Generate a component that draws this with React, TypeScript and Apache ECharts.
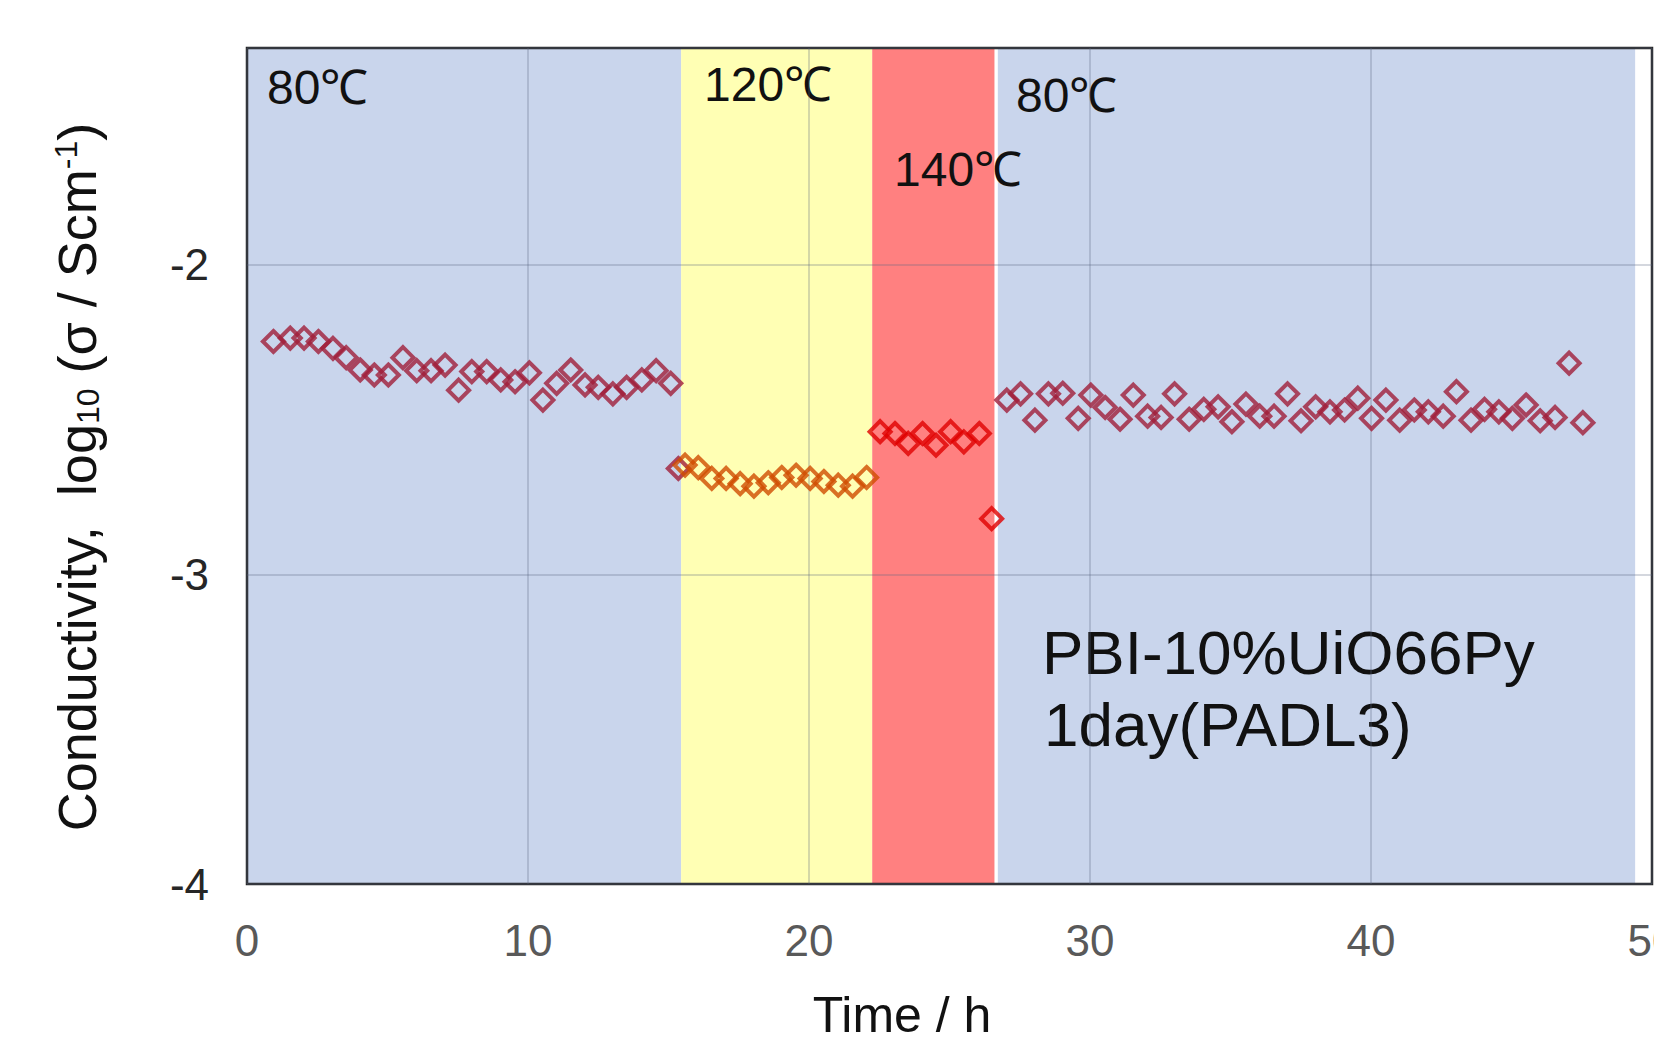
import React, { useEffect, useRef } from "react";
import * as echarts from "echarts";

// ---- data ----
const time80a = [0.94, 1.54, 2.03, 2.54, 3.06, 3.53, 4.03, 4.53, 5.03, 5.55, 6.04, 6.55, 7.05, 7.53, 8.0, 8.53, 9.03, 9.54, 10.05, 10.53, 11.02, 11.52, 12.03, 12.5, 13.02, 13.51, 14.05, 14.56, 15.08, 15.35];
const cond80a = [-2.248, -2.237, -2.237, -2.248, -2.27, -2.3, -2.34, -2.356, -2.356, -2.3, -2.342, -2.342, -2.324, -2.405, -2.345, -2.345, -2.372, -2.378, -2.349, -2.437, -2.383, -2.34, -2.388, -2.396, -2.417, -2.396, -2.372, -2.342, -2.383, -2.658];

const time120 = [15.59, 16.06, 16.54, 17.05, 17.55, 18.04, 18.55, 19.03, 19.54, 20.04, 20.53, 21.04, 21.55, 22.05];
const cond120 = [-2.647, -2.655, -2.69, -2.69, -2.707, -2.715, -2.704, -2.687, -2.68, -2.69, -2.7, -2.712, -2.715, -2.687];

const time140 = [22.53, 23.06, 23.53, 24.04, 24.52, 25.04, 25.51, 26.06, 26.5];
const cond140 = [-2.539, -2.545, -2.577, -2.545, -2.583, -2.539, -2.572, -2.545, -2.82];

const time80b = [27.04, 27.53, 28.04, 28.52, 29.03, 29.58, 30.03, 30.54, 31.07, 31.54, 32.05, 32.53, 33.01, 33.53, 34.05, 34.56, 35.05, 35.55, 36.04, 36.55, 37.03, 37.51, 38.03, 38.54, 39.06, 39.53, 40.02, 40.53, 41.02, 41.54, 42.04, 42.57, 43.04, 43.56, 44.04, 44.55, 45.03, 45.52, 46.02, 46.55, 47.05, 47.54];
const cond80b = [-2.437, -2.417, -2.502, -2.417, -2.415, -2.496, -2.421, -2.461, -2.499, -2.421, -2.489, -2.493, -2.417, -2.499, -2.467, -2.459, -2.507, -2.45, -2.489, -2.489, -2.417, -2.504, -2.459, -2.475, -2.469, -2.431, -2.496, -2.437, -2.502, -2.469, -2.475, -2.489, -2.41, -2.502, -2.467, -2.475, -2.496, -2.453, -2.504, -2.493, -2.318, -2.51];

// temperature phases (start h, end h)
const bandStart = [0, 15.45, 22.25, 26.72];
const bandEnd = [15.45, 22.25, 26.6, 49.4];
const bandColors = ["#C9D5EC", "#FFFFB4", "#FF8080", "#C9D5EC"];

const xTicks = [0, 10, 20, 30, 40, 50];
const yTicks = [-4, -3, -2];

const FONT = "'Liberation Sans', Arial, sans-serif";

export default function App() {
  const ref = useRef<HTMLDivElement>(null);
  useEffect(() => {
    if (!ref.current) return;
    const chart = echarts.init(ref.current, null, { renderer: "svg" });
    const yMin = -4;
    const yMax = -1.3;
    const marker = (color: string) => ({
      color: "transparent",
      borderColor: color,
      borderWidth: 4,
    });
    const symSize = 21;
    chart.setOption({
      animation: false,
      backgroundColor: "#ffffff",
      grid: {
        left: 247,
        right: 2,
        top: 48,
        bottom: 162,
        containLabel: false,
        outerBoundsMode: "none",
        show: true,
        borderColor: "#262626",
        borderWidth: 2.5,
        backgroundColor: "transparent",
      },
      xAxis: {
        type: "value",
        min: xTicks[0],
        max: xTicks[xTicks.length - 1],
        interval: 10,
        axisLine: { show: false },
        axisTick: { show: false },
        axisLabel: {
          margin: 34,
          fontSize: 44,
          fontFamily: FONT,
          color: "#595959",
        },
        splitLine: { show: true, lineStyle: { color: "rgba(90,100,125,0.35)", width: 1.5 } },
      },
      yAxis: {
        type: "value",
        min: yMin,
        max: yMax,
        interval: 1,
        axisLine: { show: false },
        axisTick: { show: false },
        axisLabel: {
          margin: 38,
          fontSize: 44,
          fontFamily: FONT,
          color: "#262626",
          showMaxLabel: false,
          formatter: (v: number) => (yTicks.includes(v) ? String(v) : ""),
        },
        splitLine: { show: true, lineStyle: { color: "rgba(90,100,125,0.35)", width: 1.5 } },
      },
      series: [
        {
          type: "custom",
          z: -1,
          silent: true,
          clip: false,
          encode: { x: [0, 1] },
          data: bandStart.map((s, i) => [s, bandEnd[i], i]),
          renderItem: (params: any, api: any) => {
            const s = api.value(0);
            const e = api.value(1);
            const idx = api.value(2);
            const p0 = api.coord([s, yMax]);
            const p1 = api.coord([e, yMin]);
            return {
              type: "rect",
              shape: { x: p0[0], y: p0[1], width: p1[0] - p0[0], height: p1[1] - p0[1] },
              style: { fill: bandColors[idx] },
            };
          },
        },
        {
          name: "80C",
          type: "scatter",
          symbol: "diamond",
          symbolSize: symSize,
          itemStyle: marker("#A01E3A"),
          data: time80a.map((t, i) => [t, cond80a[i]]).concat(time80b.map((t, i) => [t, cond80b[i]])),
        },
        {
          name: "120C",
          type: "scatter",
          symbol: "diamond",
          symbolSize: symSize,
          itemStyle: marker("#CF4C00"),
          data: time120.map((t, i) => [t, cond120[i]]),
        },
        {
          name: "140C",
          type: "scatter",
          symbol: "diamond",
          symbolSize: symSize,
          itemStyle: marker("#E00000"),
          data: time140.map((t, i) => [t, cond140[i]]),
        },
      ],
      graphic: [
        {
          type: "text",
          x: 267,
          y: 87,
          style: { text: "80℃", fontSize: 48, fontFamily: FONT, fill: "#111", align: "left", verticalAlign: "middle" },
        },
        {
          type: "text",
          x: 704,
          y: 84,
          style: { text: "120℃", fontSize: 48, fontFamily: FONT, fill: "#111", align: "left", verticalAlign: "middle" },
        },
        {
          type: "text",
          x: 1016,
          y: 95,
          style: { text: "80℃", fontSize: 48, fontFamily: FONT, fill: "#111", align: "left", verticalAlign: "middle" },
        },
        {
          type: "text",
          x: 894,
          y: 169,
          style: { text: "140℃", fontSize: 48, fontFamily: FONT, fill: "#111", align: "left", verticalAlign: "middle" },
        },
        {
          type: "text",
          x: 1042,
          y: 652,
          style: { text: "PBI-10%UiO66Py", fontSize: 62, fontFamily: FONT, fill: "#111", align: "left", verticalAlign: "middle" },
        },
        {
          type: "text",
          x: 1044,
          y: 724,
          style: { text: "1day(PADL3)", fontSize: 62, fontFamily: FONT, fill: "#111", align: "left", verticalAlign: "middle" },
        },
        {
          type: "text",
          x: 902,
          y: 1015,
          style: { text: "Time / h", fontSize: 50, fontFamily: FONT, fill: "#111", align: "center", verticalAlign: "middle" },
        },
        {
          type: "text",
          x: 77,
          y: 477,
          rotation: Math.PI / 2,
          style: {
            text: "Conductivity,  log{sub|10} (σ / Scm{sup|-1})",
            fontSize: 54,
            fontFamily: FONT,
            fill: "#111",
            align: "center",
            verticalAlign: "middle",
            rich: {
              sub: { fontSize: 32, fontFamily: FONT, fill: "#111", verticalAlign: "bottom" },
              sup: { fontSize: 32, fontFamily: FONT, fill: "#111", verticalAlign: "top" },
            },
          },
        },
      ],
    });
    return () => chart.dispose();
  }, []);
  return (
    <div
      ref={ref}
      style={{ position: "fixed", left: 0, top: 0, width: 1654, height: 1046 }}
    />
  );
}
